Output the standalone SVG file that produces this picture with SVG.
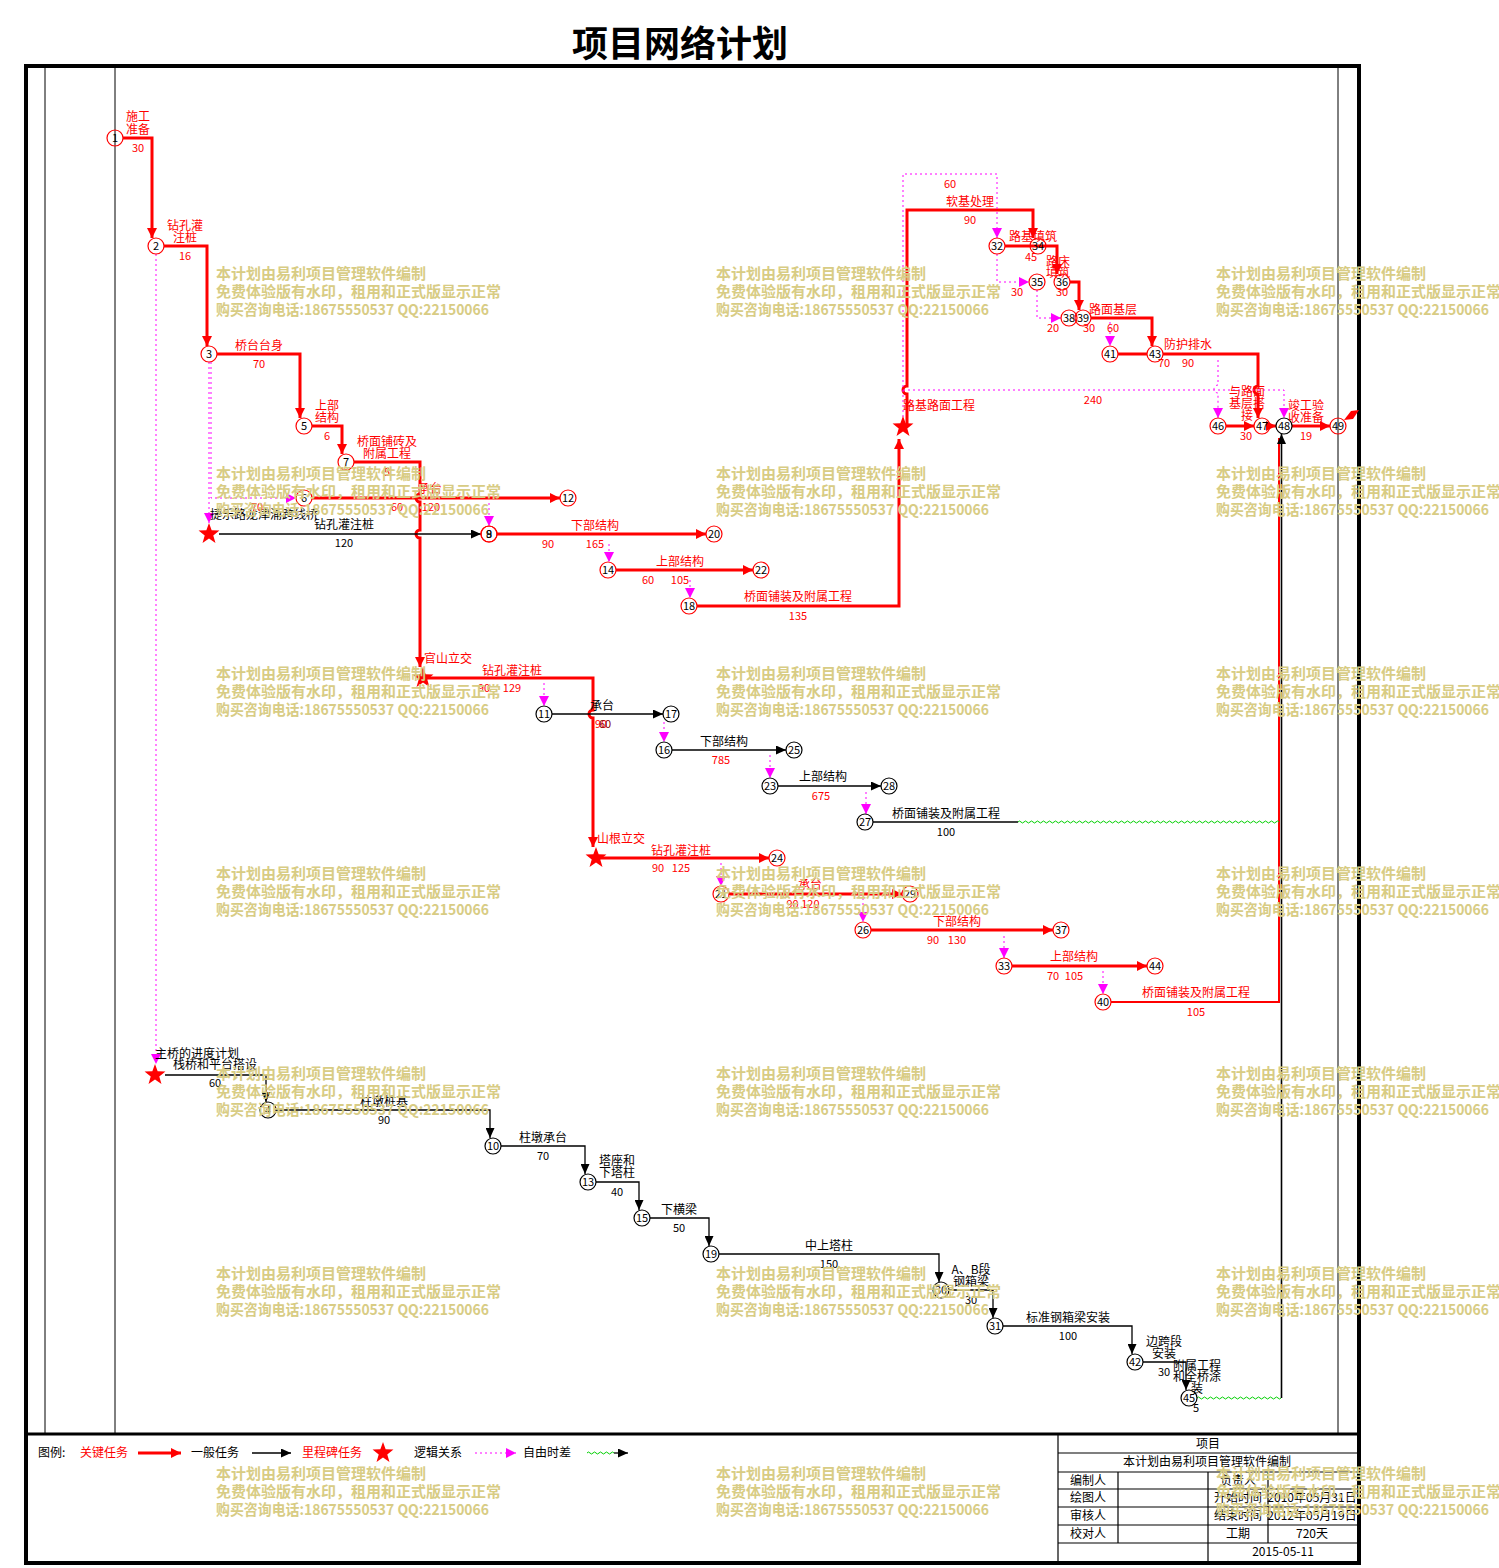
<svg xmlns="http://www.w3.org/2000/svg" width="1499" height="1568" viewBox="0 0 1499 1568">
<style>
text{font-family:"Noto Sans CJK SC","Noto Sans",sans-serif;font-size:12px;text-anchor:middle}
.r{fill:#f00}
.k{fill:#000}
.num{font-size:11px}
.nd circle{fill:none;stroke-width:1.2}
.cr{stroke:#f00}
.cb{stroke:#000}
.crit{fill:none;stroke:#f00;stroke-width:3;marker-end:url(#ar)}
.critn{fill:none;stroke:#f00;stroke-width:3}
.norm{fill:none;stroke:#000;stroke-width:1.3;marker-end:url(#ab)}
.logic{fill:none;stroke:#f0f;stroke-width:1;stroke-dasharray:2 3;marker-end:url(#am)}
.wave{fill:none;stroke:#00d000;stroke-width:1}
.wm text{font-size:15px;font-weight:700;fill:#d8cc84;text-anchor:start}
.fr{fill:none;stroke:#000}
.tb text{font-size:12px}
</style>
<defs>
<marker id="ar" markerUnits="userSpaceOnUse" markerWidth="11" markerHeight="10" refX="10" refY="5" orient="auto"><path d="M0,0L10,5L0,10z" fill="#f00"/></marker>
<marker id="ab" markerUnits="userSpaceOnUse" markerWidth="11" markerHeight="9" refX="10" refY="4.5" orient="auto"><path d="M0,0L10,4.5L0,9z" fill="#000"/></marker>
<marker id="am" markerUnits="userSpaceOnUse" markerWidth="11" markerHeight="10" refX="10" refY="5" orient="auto"><path d="M0,0L10,5L0,10z" fill="#f0f"/></marker>
<path id="star" d="M0,-11 L2.65,-3.64 L10.46,-3.4 L4.28,1.39 L6.47,8.9 L0,4.5 L-6.47,8.9 L-4.28,1.39 L-10.46,-3.4 L-2.65,-3.64Z" fill="#f00"/>
<g id="wm" class="wm"><text x="0" y="5">本计划由易利项目管理软件编制</text><text x="0" y="23">免费体验版有水印，租用和正式版显示正常</text><text x="0" y="41" textLength="273" lengthAdjust="spacingAndGlyphs">购买咨询电话:18675550537 QQ:22150066</text></g>
</defs>
<rect width="1499" height="1568" fill="#fff"/>
<text x="680" y="57" style="font-size:36px;font-weight:700">项目网络计划</text>
<g id="frame">
<rect class="fr" x="26" y="66" width="1333" height="1497" stroke-width="4"/>
<line class="fr" x1="45" y1="66" x2="45" y2="1434" stroke-width="1"/>
<line class="fr" x1="115" y1="66" x2="115" y2="1434" stroke-width="1"/>
<line class="fr" x1="1338" y1="66" x2="1338" y2="1434" stroke-width="1"/>
<line class="fr" x1="26" y1="1434" x2="1359" y2="1434" stroke-width="3"/>
</g>
<g id="connectors">
<path class="crit" d="M123,138 H152 V238"/>
<path class="crit" d="M164,246 H207 V346"/>
<path class="crit" d="M217,354 H300 V418"/>
<path class="crit" d="M312,426 H342 V454"/>
<path class="crit" d="M354,462 H420 V494 a4,4 0 0 0 0,8 V530 a4,4 0 0 0 0,8 V667"/>
<path class="crit" d="M312,498 H560"/>
<path class="crit" d="M497,534 H706"/>
<path class="crit" d="M616,570 H753"/>
<path class="crit" d="M697,606 H899 V439"/>
<path class="crit" d="M907,427 V394 a4,4 0 0 1 0,-8 V210 H1033 V238"/>
<path class="crit" d="M1005,246 H1057 V274"/>
<path class="crit" d="M1070,282 H1079 V310"/>
<path class="crit" d="M1091,318 H1152 V346"/>
<path class="critn" d="M1118,354 H1147"/>
<path class="crit" d="M1163,354 H1258 V386 a4,4 0 0 0 0,8 V418"/>
<path class="crit" d="M1226,426 H1254"/>
<path class="crit" d="M1270,426 H1276"/>
<path class="crit" d="M1292,426 H1330"/>
<path class="crit" d="M423,678 H593 V710 a4,4 0 0 0 0,8 V847"/>
<path class="crit" d="M596,858 H769"/>
<path class="crit" d="M729,894 H902"/>
<path class="crit" d="M871,930 H1053"/>
<path class="crit" d="M1012,966 H1147"/>
<path fill="none" stroke="#f00" stroke-width="2" d="M1111,1002 H1279 V438"/>
<path class="norm" d="M219,534 H481"/>
<path class="norm" d="M552,714 H663"/>
<path class="norm" d="M672,750 H786"/>
<path class="norm" d="M778,786 H881"/>
<path fill="none" stroke="#000" stroke-width="1.3" d="M873,822 H1018"/>
<path class="wave" d="M1018,822 q1.5,-2 3,0 t3,0t3,0t3,0t3,0t3,0t3,0t3,0t3,0t3,0t3,0 t3,0t3,0t3,0t3,0t3,0t3,0t3,0t3,0t3,0t3,0 t3,0t3,0t3,0t3,0t3,0t3,0t3,0t3,0t3,0t3,0 t3,0t3,0t3,0t3,0t3,0t3,0t3,0t3,0t3,0t3,0 t3,0t3,0t3,0t3,0t3,0t3,0t3,0t3,0t3,0t3,0 t3,0t3,0t3,0t3,0t3,0t3,0t3,0t3,0t3,0t3,0 t3,0t3,0t3,0t3,0t3,0t3,0t3,0t3,0t3,0t3,0 t3,0t3,0t3,0t3,0t3,0t3,0t3,0t3,0t3,0t3,0 t3,0t3,0t3,0t3,0t3,0t3,0"/>
<path class="norm" d="M165,1075 H266 V1102"/>
<path class="norm" d="M276,1110 H490 V1138"/>
<path class="norm" d="M501,1146 H585 V1174"/>
<path class="norm" d="M596,1182 H639 V1210"/>
<path class="norm" d="M650,1218 H709 V1246"/>
<path class="norm" d="M719,1254 H939 V1282"/>
<path class="norm" d="M949,1290 H993 V1318"/>
<path class="norm" d="M1003,1326 H1132 V1354"/>
<path class="norm" d="M1143,1362 H1186 V1390"/>
<path class="wave" d="M1197,1398 q1.5,-2 3,0 t3,0t3,0t3,0t3,0t3,0t3,0t3,0t3,0t3,0t3,0 t3,0t3,0t3,0t3,0t3,0t3,0t3,0t3,0t3,0t3,0 t3,0t3,0t3,0t3,0t3,0t3,0t3,0"/>
<path fill="none" stroke="#000" stroke-width="1.6" marker-end="url(#ab)" d="M1281.5,1398 V434"/>
<path class="logic" d="M156,254 V1064"/>
<path class="logic" d="M211,362 V498 H296"/>
<path class="logic" d="M209,362 V523"/>
<path class="logic" d="M489,503 V526"/>
<path class="logic" d="M609,544 V562"/>
<path class="logic" d="M690,580 V598"/>
<path class="logic" d="M903,427 V174 H997 V238"/>
<path class="logic" d="M997,254 V282 H1029"/>
<path class="logic" d="M1037,290 V318 H1061"/>
<path class="logic" d="M1110,322 V346"/>
<path class="logic" d="M903,390 H1284 V418"/>
<path class="logic" d="M1218,360 V385 a4,4 0 0 0 0,8 V418"/>
<path class="logic" d="M544,683 V706"/>
<path class="logic" d="M664,722 V742"/>
<path class="logic" d="M770,755 V778"/>
<path class="logic" d="M866,792 V814"/>
<path class="logic" d="M721,863 V886"/>
<path class="logic" d="M863,898 V922"/>
<path class="logic" d="M1004,936 V958"/>
<path class="logic" d="M1103,971 V994"/>
<polygon points="1344,420 1351,411 1359,410 1353,419" fill="#f00"/>
</g>
<g id="milestones">
<g id="s1"><use href="#star" x="209" y="534"/><text class="k" x="210" y="519" style="text-anchor:start">捷乐路龙津涌跨线桥</text></g>
<g id="s2"><use href="#star" x="423" y="678"/><text class="r" x="448" y="663">官山立交</text></g>
<g id="s3"><use href="#star" x="596" y="858"/><text class="r" x="621" y="843">山根立交</text></g>
<g id="s4"><use href="#star" x="903" y="427"/><text class="r" x="939" y="410">路基路面工程</text></g>
<g id="s5"><use href="#star" x="155" y="1075"/><text class="k" x="197" y="1058">主桥的进度计划</text></g>
</g>
<g id="nodes">
<g id="n1" class="nd"><circle class="cr" cx="115" cy="138" r="8"/><text class="num k" x="115" y="142">1</text></g>
<g id="n2" class="nd"><circle class="cr" cx="156" cy="246" r="8"/><text class="num k" x="156" y="250">2</text></g>
<g id="n3" class="nd"><circle class="cr" cx="209" cy="354" r="8"/><text class="num k" x="209" y="358">3</text></g>
<g id="n5" class="nd"><circle class="cr" cx="304" cy="426" r="8"/><text class="num k" x="304" y="430">5</text></g>
<g id="n7" class="nd"><circle class="cr" cx="346" cy="462" r="8"/><text class="num k" x="346" y="466">7</text></g>
<g id="n6" class="nd"><circle class="cr" cx="304" cy="498" r="8"/><text class="num k" x="304" y="502">6</text></g>
<g id="n12" class="nd"><circle class="cr" cx="568" cy="498" r="8"/><text class="num k" x="568" y="502">12</text></g>
<g id="n8" class="nd"><circle class="cr" cx="489" cy="534" r="8"/><text class="num k" x="489" y="538">8</text></g>
<g id="n9" class="nd"><circle class="cr" cx="489" cy="534" r="8"/><text class="num k" x="489" y="538">9</text></g>
<g id="n20" class="nd"><circle class="cr" cx="714" cy="534" r="8"/><text class="num k" x="714" y="538">20</text></g>
<g id="n14" class="nd"><circle class="cr" cx="608" cy="570" r="8"/><text class="num k" x="608" y="574">14</text></g>
<g id="n22" class="nd"><circle class="cr" cx="761" cy="570" r="8"/><text class="num k" x="761" y="574">22</text></g>
<g id="n18" class="nd"><circle class="cr" cx="689" cy="606" r="8"/><text class="num k" x="689" y="610">18</text></g>
<g id="n32" class="nd"><circle class="cr" cx="997" cy="246" r="8"/><text class="num k" x="997" y="250">32</text></g>
<g id="n34" class="nd"><circle class="cr" cx="1038" cy="246" r="8"/><text class="num k" x="1038" y="250">34</text></g>
<g id="n35" class="nd"><circle class="cr" cx="1037" cy="282" r="8"/><text class="num k" x="1037" y="286">35</text></g>
<g id="n36" class="nd"><circle class="cr" cx="1062" cy="282" r="8"/><text class="num k" x="1062" y="286">36</text></g>
<g id="n38" class="nd"><circle class="cr" cx="1069" cy="318" r="8"/><text class="num k" x="1069" y="322">38</text></g>
<g id="n39" class="nd"><circle class="cr" cx="1083" cy="318" r="8"/><text class="num k" x="1083" y="322">39</text></g>
<g id="n41" class="nd"><circle class="cr" cx="1110" cy="354" r="8"/><text class="num k" x="1110" y="358">41</text></g>
<g id="n43" class="nd"><circle class="cr" cx="1155" cy="354" r="8"/><text class="num k" x="1155" y="358">43</text></g>
<g id="n46" class="nd"><circle class="cr" cx="1218" cy="426" r="8"/><text class="num k" x="1218" y="430">46</text></g>
<g id="n47" class="nd"><circle class="cr" cx="1262" cy="426" r="8"/><text class="num k" x="1262" y="430">47</text></g>
<g id="n48" class="nd"><circle class="cb" cx="1284" cy="426" r="8"/><text class="num k" x="1284" y="430">48</text></g>
<g id="n49" class="nd"><circle class="cr" cx="1338" cy="426" r="8"/><text class="num k" x="1338" y="430">49</text></g>
<g id="n11" class="nd"><circle class="cb" cx="544" cy="714" r="8"/><text class="num k" x="544" y="718">11</text></g>
<g id="n17" class="nd"><circle class="cb" cx="671" cy="714" r="8"/><text class="num k" x="671" y="718">17</text></g>
<g id="n16" class="nd"><circle class="cb" cx="664" cy="750" r="8"/><text class="num k" x="664" y="754">16</text></g>
<g id="n25" class="nd"><circle class="cb" cx="794" cy="750" r="8"/><text class="num k" x="794" y="754">25</text></g>
<g id="n23" class="nd"><circle class="cb" cx="770" cy="786" r="8"/><text class="num k" x="770" y="790">23</text></g>
<g id="n28" class="nd"><circle class="cb" cx="889" cy="786" r="8"/><text class="num k" x="889" y="790">28</text></g>
<g id="n27" class="nd"><circle class="cb" cx="865" cy="822" r="8"/><text class="num k" x="865" y="826">27</text></g>
<g id="n24" class="nd"><circle class="cr" cx="777" cy="858" r="8"/><text class="num k" x="777" y="862">24</text></g>
<g id="n21" class="nd"><circle class="cr" cx="721" cy="894" r="8"/><text class="num k" x="721" y="898">21</text></g>
<g id="n29" class="nd"><circle class="cr" cx="910" cy="894" r="8"/><text class="num k" x="910" y="898">29</text></g>
<g id="n26" class="nd"><circle class="cr" cx="863" cy="930" r="8"/><text class="num k" x="863" y="934">26</text></g>
<g id="n37" class="nd"><circle class="cr" cx="1061" cy="930" r="8"/><text class="num k" x="1061" y="934">37</text></g>
<g id="n33" class="nd"><circle class="cr" cx="1004" cy="966" r="8"/><text class="num k" x="1004" y="970">33</text></g>
<g id="n44" class="nd"><circle class="cr" cx="1155" cy="966" r="8"/><text class="num k" x="1155" y="970">44</text></g>
<g id="n40" class="nd"><circle class="cr" cx="1103" cy="1002" r="8"/><text class="num k" x="1103" y="1006">40</text></g>
<g id="n4" class="nd"><circle class="cb" cx="268" cy="1110" r="8"/><text class="num k" x="268" y="1114">4</text></g>
<g id="n10" class="nd"><circle class="cb" cx="493" cy="1146" r="8"/><text class="num k" x="493" y="1150">10</text></g>
<g id="n13" class="nd"><circle class="cb" cx="588" cy="1182" r="8"/><text class="num k" x="588" y="1186">13</text></g>
<g id="n15" class="nd"><circle class="cb" cx="642" cy="1218" r="8"/><text class="num k" x="642" y="1222">15</text></g>
<g id="n19" class="nd"><circle class="cb" cx="711" cy="1254" r="8"/><text class="num k" x="711" y="1258">19</text></g>
<g id="n30" class="nd"><circle class="cb" cx="941" cy="1290" r="8"/><text class="num k" x="941" y="1294">30</text></g>
<g id="n31" class="nd"><circle class="cb" cx="995" cy="1326" r="8"/><text class="num k" x="995" y="1330">31</text></g>
<g id="n42" class="nd"><circle class="cb" cx="1135" cy="1362" r="8"/><text class="num k" x="1135" y="1366">42</text></g>
<g id="n45" class="nd"><circle class="cb" cx="1189" cy="1398" r="8"/><text class="num k" x="1189" y="1402">45</text></g>
</g>
<g id="labels">
<g class="r">
<text x="138" y="121">施工</text><text x="138" y="134">准备</text><text class="num" x="138" y="152">30</text>
<text x="185" y="230">钻孔灌</text><text x="185" y="242">注桩</text><text class="num" x="185" y="260">16</text>
<text x="259" y="350">桥台台身</text><text class="num" x="259" y="368">70</text>
<text x="327" y="410">上部</text><text x="327" y="422">结构</text><text class="num" x="327" y="440">6</text>
<text x="387" y="446">桥面铺砖及</text><text x="387" y="458">附属工程</text><text class="num" x="387" y="476">5</text>
<text x="430" y="493">承台</text><text class="num" x="397" y="511">60</text><text class="num" x="431" y="511">120</text><text class="num" x="257" y="511">70</text>
<text x="595" y="530">下部结构</text><text class="num" x="548" y="548">90</text><text class="num" x="595" y="548">165</text>
<text x="680" y="566">上部结构</text><text class="num" x="648" y="584">60</text><text class="num" x="680" y="584">105</text>
<text x="798" y="601">桥面铺装及附属工程</text><text class="num" x="798" y="620">135</text>
<text class="num" x="950" y="188">60</text><text x="970" y="206">软基处理</text><text class="num" x="970" y="224">90</text>
<text x="1033" y="241">路基填筑</text><text class="num" x="1031" y="261">45</text>
<text x="1058" y="266">路床</text><text x="1058" y="277">填筑</text><text class="num" x="1062" y="296">30</text><text class="num" x="1017" y="296">30</text>
<text class="num" x="1053" y="332">20</text>
<text x="1113" y="314">路面基层</text><text class="num" x="1089" y="332">30</text><text class="num" x="1113" y="332">60</text>
<text x="1188" y="349">防护排水</text><text class="num" x="1164" y="367">70</text><text class="num" x="1188" y="367">90</text>
<text class="num" x="1093" y="404">240</text>
<text x="1247" y="396">与路面</text><text x="1247" y="408">基层搭</text><text x="1247" y="420">接</text><text class="num" x="1246" y="440">30</text>
<text x="1306" y="410">竣工验</text><text x="1306" y="422">收准备</text><text class="num" x="1306" y="440">19</text>
<text x="512" y="675">钻孔灌注桩</text><text class="num" x="484" y="692">90</text><text class="num" x="512" y="692">129</text>
<text x="681" y="855">钻孔灌注桩</text><text class="num" x="658" y="872">90</text><text class="num" x="681" y="872">125</text>
<text x="810" y="889">承台</text><text class="num" x="803" y="908">90 120</text>
<text x="957" y="926">下部结构</text><text class="num" x="933" y="944">90</text><text class="num" x="957" y="944">130</text>
<text x="1074" y="961">上部结构</text><text class="num" x="1053" y="980">70</text><text class="num" x="1074" y="980">105</text>
<text x="1196" y="997">桥面铺装及附属工程</text><text class="num" x="1196" y="1016">105</text>
<text class="num" x="601" y="728">90</text><text class="num" x="721" y="764">785</text><text class="num" x="821" y="800">675</text>
</g>
<g class="k">
<text x="344" y="529">钻孔灌注桩</text><text class="num" x="344" y="547">120</text>
<text x="602" y="710">承台</text><text class="num" x="605" y="728" style="fill:#800">60</text>
<text x="724" y="746">下部结构</text>
<text x="823" y="781">上部结构</text>
<text x="946" y="818">桥面铺装及附属工程</text><text class="num" x="946" y="836">100</text>
<text x="215" y="1069">栈桥和平台搭设</text><text class="num" x="215" y="1087">60</text>
<text x="384" y="1106">柱墩桩基</text><text class="num" x="384" y="1124">90</text>
<text x="543" y="1142">柱墩承台</text><text class="num" x="543" y="1160">70</text>
<text x="617" y="1165">塔座和</text><text x="617" y="1177">下塔柱</text><text class="num" x="617" y="1196">40</text>
<text x="679" y="1214">下横梁</text><text class="num" x="679" y="1232">50</text>
<text x="829" y="1250">中上塔柱</text><text class="num" x="829" y="1268">150</text>
<text x="971" y="1274">A、B段</text><text x="971" y="1286">钢箱梁</text><text class="num" x="971" y="1304">30</text>
<text x="1068" y="1322">标准钢箱梁安装</text><text class="num" x="1068" y="1340">100</text>
<text x="1164" y="1346">边跨段</text><text x="1164" y="1358">安装</text><text class="num" x="1164" y="1376">30</text>
<text x="1197" y="1370">附属工程</text><text x="1197" y="1381">和全桥涂</text><text x="1197" y="1393">装</text><text class="num" x="1196" y="1412">5</text>
</g>
</g>
<g id="legend">
<text class="k" x="38" y="1457" style="text-anchor:start">图例:</text>
<text class="r" x="104" y="1457">关键任务</text>
<path class="crit" d="M138,1453 H181"/>
<text class="k" x="215" y="1457">一般任务</text>
<path class="norm" d="M252,1453 H291"/>
<text class="r" x="332" y="1457">里程碑任务</text>
<use href="#star" x="383" y="1453"/>
<text class="k" x="438" y="1457">逻辑关系</text>
<path class="logic" d="M475,1453 H516"/>
<text class="k" x="547" y="1457">自由时差</text>
<path class="wave" d="M587,1453 q1.5,-2 3,0 t3,0t3,0t3,0t3,0t3,0t3,0t3,0t3,0"/>
<path class="norm" d="M614,1453 H628"/>
</g>
<g id="table" class="tb">
<g stroke="#000" stroke-width="1.2">
<line x1="1058" y1="1434" x2="1058" y2="1563"/>
<line x1="1058" y1="1453" x2="1357" y2="1453"/>
<line x1="1058" y1="1472" x2="1357" y2="1472"/>
<line x1="1058" y1="1489" x2="1357" y2="1489"/>
<line x1="1058" y1="1507" x2="1357" y2="1507"/>
<line x1="1058" y1="1525" x2="1357" y2="1525"/>
<line x1="1058" y1="1543" x2="1357" y2="1543"/>
<line x1="1118" y1="1472" x2="1118" y2="1543"/>
<line x1="1208" y1="1472" x2="1208" y2="1563"/>
<line x1="1268" y1="1472" x2="1268" y2="1543"/>
</g>
<text class="k" x="1208" y="1448">项目</text>
<text class="k" x="1207" y="1466">本计划由易利项目管理软件编制</text>
<text class="k" x="1088" y="1485">编制人</text>
<text class="k" x="1088" y="1502">绘图人</text>
<text class="k" x="1088" y="1520">审核人</text>
<text class="k" x="1088" y="1538">校对人</text>
<text class="k" x="1238" y="1485">负责人</text>
<text class="k" x="1238" y="1502">开始时间</text>
<text class="k" x="1238" y="1520">结束时间</text>
<text class="k" x="1238" y="1538">工期</text>
<text class="k" x="1312" y="1502">2010年05月31日</text>
<text class="k" x="1312" y="1520">2012年05月19日</text>
<text class="k" x="1312" y="1538">720天</text>
<text class="k" x="1283" y="1556">2015-05-11</text>
</g>
<g id="watermarks">
<use href="#wm" x="216" y="274"/><use href="#wm" x="716" y="274"/><use href="#wm" x="1216" y="274"/>
<use href="#wm" x="216" y="474"/><use href="#wm" x="716" y="474"/><use href="#wm" x="1216" y="474"/>
<use href="#wm" x="216" y="674"/><use href="#wm" x="716" y="674"/><use href="#wm" x="1216" y="674"/>
<use href="#wm" x="216" y="874"/><use href="#wm" x="716" y="874"/><use href="#wm" x="1216" y="874"/>
<use href="#wm" x="216" y="1074"/><use href="#wm" x="716" y="1074"/><use href="#wm" x="1216" y="1074"/>
<use href="#wm" x="216" y="1274"/><use href="#wm" x="716" y="1274"/><use href="#wm" x="1216" y="1274"/>
<use href="#wm" x="216" y="1474"/><use href="#wm" x="716" y="1474"/><use href="#wm" x="1216" y="1474"/>
</g>
</svg>
